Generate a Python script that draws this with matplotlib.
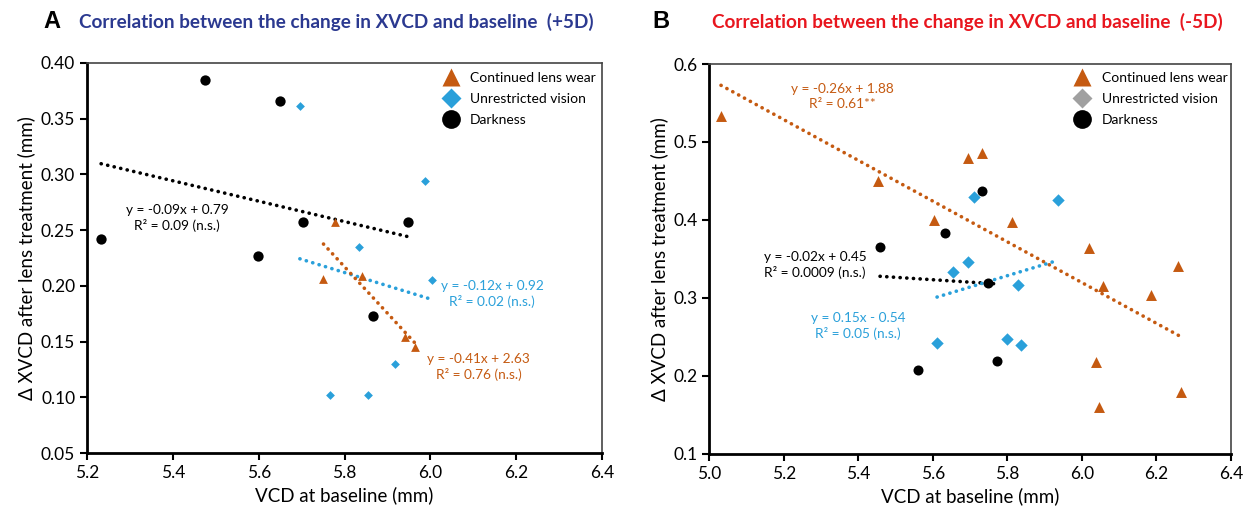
import numpy as np
import matplotlib.pyplot as plt
from matplotlib.lines import Line2D

plt.rcParams["font.family"] = ["Lato", "DejaVu Sans"]

ORANGE = "#C55A11"
BLUE = "#2AA0DA"
GREY = "#A0A0A0"
BLACK = "#000000"

# Panel A (+5D)
a_lens_x = [5.779, 5.751, 5.840, 5.941, 5.964]
a_lens_y = [0.257, 0.206, 0.209, 0.154, 0.145]
a_vis_x = [5.696, 5.988, 5.834, 6.004, 5.918, 5.766, 5.855]
a_vis_y = [0.361, 0.294, 0.235, 0.205, 0.130, 0.102, 0.102]
a_dark_x = [5.233, 5.475, 5.650, 5.703, 5.598, 5.948, 5.866]
a_dark_y = [0.242, 0.385, 0.366, 0.257, 0.227, 0.257, 0.173]

# Panel B (-5D)
b_lens_x = [5.031, 5.452, 5.603, 5.694, 5.733, 5.813, 6.019, 6.258, 6.056,
            6.186, 6.039, 6.266, 6.047]
b_lens_y = [0.533, 0.450, 0.400, 0.480, 0.486, 0.397, 0.364, 0.341, 0.315,
            0.304, 0.218, 0.179, 0.160]
b_vis_x = [5.709, 5.936, 5.693, 5.654, 5.829, 5.611, 5.800, 5.837]
b_vis_y = [0.430, 0.425, 0.346, 0.333, 0.317, 0.242, 0.248, 0.240]
b_dark_x = [5.458, 5.632, 5.733, 5.749, 5.773, 5.559]
b_dark_y = [0.365, 0.383, 0.437, 0.319, 0.219, 0.208]

labels = ["Continued lens wear", "Unrestricted vision", "Darkness"]


def trend(ax, x, y, color):
    k, b = np.polyfit(x, y, 1)
    xs = np.array([min(x), max(x)])
    ax.plot(xs, k * xs + b, color=color, lw=2.6, linestyle=(0, (0.05, 1.8)),
            dash_capstyle="round", zorder=2)


def style_axes(ax):
    for s in ["left", "bottom"]:
        ax.spines[s].set_linewidth(2)
        ax.spines[s].set_color("black")
    for s in ["top", "right"]:
        ax.spines[s].set_linewidth(1.2)
        ax.spines[s].set_color("#444444")
    ax.tick_params(direction="out", length=5, width=1.5, labelsize=12.5)
    ax.set_xlabel("VCD at baseline (mm)", fontsize=13.5)
    ax.set_ylabel("\u0394 XVCD after lens treatment (mm)", fontsize=13.5)


def add_legend(ax, diamond_color, anchor):
    handles = [
        Line2D([], [], ls="none", marker="^", ms=13.5, mfc=ORANGE, mec="none"),
        Line2D([], [], ls="none", marker="D", ms=10, mfc=diamond_color, mec="none"),
        Line2D([], [], ls="none", marker="o", ms=13.5, mfc=BLACK, mec="none"),
    ]
    ax.legend(handles, labels, loc="upper left", bbox_to_anchor=anchor,
              frameon=False, fontsize=10, handlelength=1.7, handletextpad=0.55,
              borderpad=0, borderaxespad=0, labelspacing=0.65)


fig = plt.figure(figsize=(12.53, 5.12), dpi=100)
axA = fig.add_axes([0.0694, 0.1152, 0.4111, 0.7618])
axB = fig.add_axes([0.5662, 0.1133, 0.4162, 0.7617])

ann = dict(ha="center", va="center", fontsize=9.8, linespacing=1.3)

# --- A ---
trend(axA, a_dark_x, a_dark_y, BLACK)
trend(axA, a_vis_x, a_vis_y, BLUE)
trend(axA, a_lens_x, a_lens_y, ORANGE)
axA.scatter(a_lens_x, a_lens_y, marker="^", s=40, color=ORANGE, zorder=3, lw=0)
axA.scatter(a_vis_x, a_vis_y, marker="D", s=20, color=BLUE, zorder=3, lw=0)
axA.scatter(a_dark_x, a_dark_y, marker="o", s=55, color=BLACK, zorder=3, lw=0)
axA.set_xlim(5.2, 6.4)
axA.set_ylim(0.05, 0.40)
axA.set_xticks(np.arange(5.2, 6.41, 0.2))
axA.set_yticks(np.arange(0.05, 0.401, 0.05))
axA.xaxis.set_major_formatter(plt.FormatStrFormatter("%.1f"))
axA.yaxis.set_major_formatter(plt.FormatStrFormatter("%.2f"))
style_axes(axA)
axA.text(5.41, 0.261, "y = -0.09x + 0.79\nR\u00b2 = 0.09 (n.s.)", color=BLACK, **ann)
axA.text(6.144, 0.193, "y = -0.12x + 0.92\nR\u00b2 = 0.02 (n.s.)", color=BLUE, **ann)
axA.text(6.113, 0.127, "y = -0.41x + 2.63\nR\u00b2 = 0.76 (n.s.)", color=ORANGE, **ann)
add_legend(axA, BLUE, (0.683, 0.978))

# --- B ---
trend(axB, b_lens_x, b_lens_y, ORANGE)
trend(axB, b_dark_x, b_dark_y, BLACK)
trend(axB, b_vis_x, b_vis_y, BLUE)
axB.scatter(b_lens_x, b_lens_y, marker="^", s=62, color=ORANGE, zorder=3, lw=0)
axB.scatter(b_vis_x, b_vis_y, marker="D", s=40, color=BLUE, zorder=3, lw=0)
axB.scatter(b_dark_x, b_dark_y, marker="o", s=52, color=BLACK, zorder=3, lw=0)
axB.set_xlim(5.0, 6.4)
axB.set_ylim(0.1, 0.6)
axB.set_xticks(np.arange(5.0, 6.41, 0.2))
axB.set_yticks(np.arange(0.1, 0.601, 0.1))
axB.xaxis.set_major_formatter(plt.FormatStrFormatter("%.1f"))
axB.yaxis.set_major_formatter(plt.FormatStrFormatter("%.1f"))
style_axes(axB)
axB.text(5.356, 0.558, "y = -0.26x + 1.88\nR\u00b2 = 0.61**", color=ORANGE, **ann)
axB.text(5.283, 0.342, "y = -0.02x + 0.45\nR\u00b2 = 0.0009 (n.s.)", color=BLACK, **ann)
axB.text(5.399, 0.264, "y = 0.15x - 0.54\nR\u00b2 = 0.05 (n.s.)", color=BLUE, **ann)
add_legend(axB, GREY, (0.692, 0.980))

# headers
fig.text(43 / 1253, 1 - 22 / 512, "A", fontsize=17, fontweight="bold",
         family="Liberation Sans", va="center", ha="left")
fig.text(79 / 1253, 1 - 22 / 512,
         "Correlation between the change in XVCD and baseline  (+5D)",
         fontsize=13.6, fontweight="bold", color="#2B3990", va="center", ha="left")
fig.text(652 / 1253, 1 - 22 / 512, "B", fontsize=17, fontweight="bold",
         family="Liberation Sans", va="center", ha="left")
fig.text(712 / 1253, 1 - 22 / 512,
         "Correlation between the change in XVCD and baseline  (-5D)",
         fontsize=13.6, fontweight="bold", color="#E8161E", va="center", ha="left")

fig.savefig("out.png", dpi=100)
